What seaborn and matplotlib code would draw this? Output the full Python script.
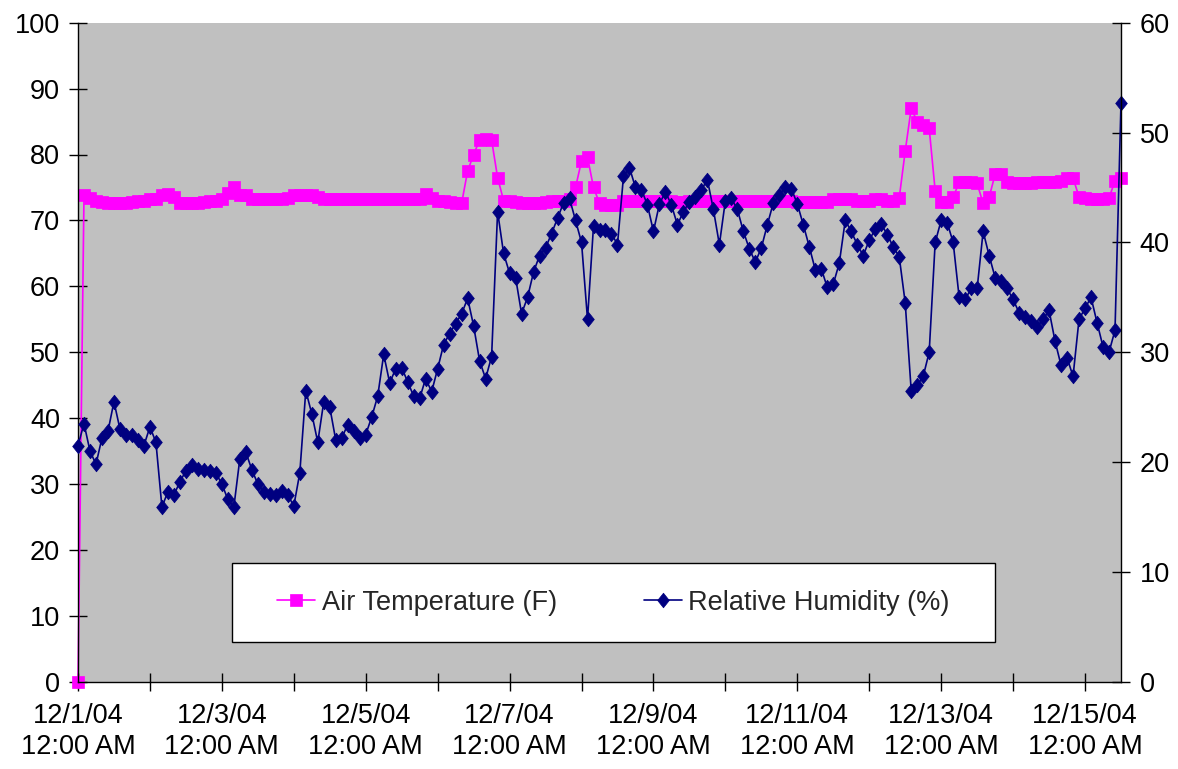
import pandas as pd
import matplotlib
matplotlib.use("Agg")
import matplotlib.pyplot as plt
import matplotlib.dates as mdates
from matplotlib.ticker import FuncFormatter, MultipleLocator
from matplotlib.lines import Line2D
from matplotlib.patches import Rectangle
from matplotlib.path import Path
import seaborn as sns

# logger readings, one every 2 hours from 12/1/04 00:00
START = "2004-12-01 00:00"
STEP = "2h"

air_temp_f = [
    0.0, 73.8, 73.4, 73.0, 72.8, 72.6, 72.6, 72.6, 72.6, 72.8,
    73.0, 73.0, 73.2, 73.2, 73.8, 74.0, 73.6, 72.6, 72.6, 72.6,
    72.6, 72.8, 73.0, 73.0, 73.2, 74.2, 75.0, 73.8, 73.8, 73.2,
    73.2, 73.2, 73.2, 73.2, 73.2, 73.4, 73.8, 73.8, 73.8, 73.8,
    73.6, 73.2, 73.2, 73.2, 73.2, 73.2, 73.2, 73.2, 73.2, 73.2,
    73.2, 73.2, 73.2, 73.2, 73.2, 73.2, 73.2, 73.2, 74.0, 73.4,
    73.0, 73.0, 72.8, 72.6, 72.6, 77.5, 80.0, 82.2, 82.4, 82.2,
    76.5, 73.0, 73.0, 72.8, 72.6, 72.6, 72.6, 72.6, 72.8, 73.0,
    73.0, 73.0, 73.2, 75.0, 79.0, 79.6, 75.0, 72.6, 72.4, 72.4,
    72.4, 73.0, 73.0, 73.0, 73.0, 73.0, 73.0, 73.0, 73.0, 73.0,
    72.8, 72.8, 73.0, 73.0, 73.0, 73.0, 73.0, 73.0, 73.0, 73.0,
    73.0, 73.0, 73.0, 73.0, 73.0, 73.0, 73.0, 73.0, 73.0, 73.0,
    72.8, 72.8, 72.8, 72.8, 72.8, 72.8, 73.2, 73.2, 73.2, 73.2,
    73.0, 73.0, 73.0, 73.2, 73.2, 73.0, 73.0, 73.4, 80.5, 87.0,
    85.0, 84.5, 84.0, 74.5, 72.8, 72.8, 73.5, 75.8, 75.8, 75.8,
    75.6, 72.6, 73.5, 77.0, 77.0, 75.8, 75.6, 75.6, 75.6, 75.6,
    75.8, 75.8, 75.8, 75.8, 76.0, 76.4, 76.4, 73.6, 73.4, 73.2,
    73.2, 73.2, 73.4, 76.0, 76.5,
]

rel_humidity = [
    21.5, 23.5, 21.0, 19.8, 22.2, 22.8, 25.5, 23.0, 22.5, 22.5,
    22.0, 21.5, 23.2, 21.8, 15.9, 17.3, 17.0, 18.2, 19.2, 19.7,
    19.4, 19.3, 19.2, 19.0, 18.0, 16.6, 15.9, 20.3, 20.9, 19.3,
    18.0, 17.3, 17.1, 17.0, 17.4, 17.0, 16.0, 19.0, 26.5, 24.4,
    21.8, 25.5, 25.0, 22.0, 22.2, 23.4, 22.8, 22.2, 22.5, 24.1,
    26.0, 29.8, 27.2, 28.5, 28.6, 27.3, 26.0, 25.8, 27.6, 26.4,
    28.5, 30.7, 31.7, 32.6, 33.5, 34.9, 32.4, 29.2, 27.6, 29.6,
    42.8, 39.0, 37.2, 36.8, 33.5, 35.0, 37.3, 38.8, 39.5, 40.8,
    42.2, 43.6, 44.0, 42.0, 40.0, 33.0, 41.5, 41.1, 41.1, 40.8,
    39.8, 46.0, 46.8, 45.0, 44.8, 43.4, 41.0, 43.5, 44.6, 43.4,
    41.6, 42.8, 43.7, 44.1, 44.8, 45.7, 43.0, 39.8, 43.8, 44.0,
    43.0, 41.0, 39.4, 38.2, 39.5, 41.6, 43.6, 44.3, 45.0, 44.9,
    43.5, 41.6, 39.6, 37.5, 37.6, 35.9, 36.2, 38.1, 42.0, 41.0,
    39.8, 38.8, 40.2, 41.2, 41.7, 40.7, 39.6, 38.7, 34.5, 26.5,
    27.0, 27.8, 30.0, 40.0, 42.0, 41.8, 40.0, 35.0, 34.8, 35.8,
    35.8, 41.0, 38.8, 36.8, 36.5, 35.8, 34.8, 33.6, 33.2, 32.8,
    32.3, 33.0, 33.8, 31.0, 28.8, 29.5, 27.8, 33.0, 34.0, 35.0,
    32.7, 30.5, 30.0, 32.0, 52.7,
]

series_labels = ["Air Temperature (F)", "Relative Humidity (%)"]
series_colors = ["#FF00FF", "#000080"]

times = pd.date_range(START, periods=len(air_temp_f), freq=STEP)
df = pd.DataFrame({"time": times, "temp": air_temp_f, "rh": rel_humidity})

sns.set_theme(style="ticks")
plt.rcParams["font.family"] = ["Liberation Sans", "DejaVu Sans"]
FS = 19.5

fig = plt.figure(figsize=(11.78, 7.69), dpi=100)
W, H = 1178, 769
x0, x1, y0, y1 = 78, 1121, 22.7, 681.7
ax = fig.add_axes([x0 / W, 1 - y1 / H, (x1 - x0) / W, (y1 - y0) / H])
ax.set_facecolor("#C0C0C0")
ax2 = ax.twinx()

# Excel-style diamond: a bit taller than wide
diamond = Path([(0, 1), (0.8, 0), (0, -1), (-0.8, 0), (0, 1)],
               [Path.MOVETO, Path.LINETO, Path.LINETO, Path.LINETO, Path.CLOSEPOLY])

temp_style = dict(color=series_colors[0], marker="s", markersize=8.5,
                  markeredgecolor=series_colors[0], markeredgewidth=0.5, lw=1.2)
rh_style = dict(color=series_colors[1], marker=diamond, markersize=10.5,
                markeredgecolor=series_colors[1], markeredgewidth=0.5, lw=1.2)

sns.lineplot(data=df, x="time", y="temp", ax=ax, clip_on=False, **temp_style)
sns.lineplot(data=df, x="time", y="rh", ax=ax2, clip_on=False, **rh_style)

ax.set_xlim(times[0], times[-1])
ax.set_ylim(0, 100)
ax2.set_ylim(0, 60)
ax.yaxis.set_major_locator(MultipleLocator(10))
ax2.yaxis.set_major_locator(MultipleLocator(10))

ax.xaxis.set_major_locator(mdates.DayLocator(bymonthday=range(1, 32, 2)))
ax.xaxis.set_minor_locator(mdates.DayLocator())


def date_label(v, pos):
    d = mdates.num2date(v)
    return f"{d.month}/{d.day}/{d:%y}\n{d:%I:%M %p}"


ax.xaxis.set_major_formatter(FuncFormatter(date_label))
for lbl in ax.get_xticklabels():
    lbl.set_linespacing(1.25)

for a in (ax, ax2):
    a.set_xlabel("")
    a.set_ylabel("")
    for s in a.spines.values():
        s.set_color("black")
        s.set_linewidth(1)
ax.spines["top"].set_visible(False)
ax.spines["right"].set_visible(False)
ax2.spines["top"].set_visible(False)
ax2.spines["left"].set_visible(False)
ax2.spines["bottom"].set_visible(False)

ax.tick_params(axis="x", which="both", direction="inout", length=13, width=1,
               color="black", labelsize=FS, pad=8.5, labelcolor="black")
ax.tick_params(axis="y", direction="inout", length=13, width=1,
               color="black", labelsize=FS, pad=6.5, labelcolor="black")
ax2.tick_params(axis="y", direction="inout", length=13, width=1,
                color="black", labelsize=FS, pad=7, labelcolor="black")

# legend box
lx0, lx1, ly0, ly1 = 232, 995, 563, 642
box = Rectangle(((lx0 - x0) / (x1 - x0), (y1 - ly1) / (y1 - y0)),
                (lx1 - lx0) / (x1 - x0), (ly1 - ly0) / (y1 - y0),
                transform=ax2.transAxes, facecolor="white", edgecolor="black",
                lw=1, zorder=5, clip_on=False)
ax2.add_patch(box)
handles = [Line2D([], [], **temp_style), Line2D([], [], **rh_style)]
leg = ax2.legend(handles, series_labels, loc="center",
                 bbox_to_anchor=(((lx0 + lx1) / 2 - x0) / (x1 - x0),
                                 (y1 - (ly0 + ly1) / 2) / (y1 - y0)),
                 ncol=2, frameon=False, fontsize=FS, handlelength=1.4,
                 handletextpad=0.25, columnspacing=3.2, borderaxespad=0)
leg.set_zorder(6)

fig.savefig("out.png", dpi=100, facecolor="white")
